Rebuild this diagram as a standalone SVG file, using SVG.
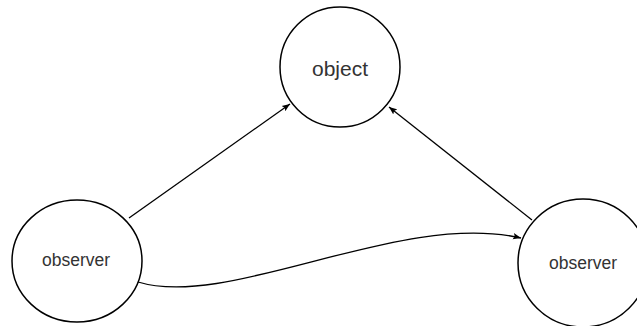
<svg xmlns="http://www.w3.org/2000/svg" width="637" height="326" viewBox="0 0 637 326">
<style>
.node{fill:#fff;stroke:#000;stroke-width:1.5}
.edge{fill:none;stroke:#000;stroke-width:1.3}
text{font-family:"Liberation Sans",Arial,sans-serif;fill:#333;text-anchor:middle;dominant-baseline:central}
</style>
<defs>
<marker id="ah" viewBox="0 0 10 10" refX="10" refY="5" markerWidth="8" markerHeight="8" markerUnits="userSpaceOnUse" orient="auto">
<path d="M0,1 L10,5 L0,9 L2,5 Z" fill="#000"/>
</marker>
</defs>
<rect width="637" height="326" fill="#fff"/>
<g id="object">
<circle class="node" cx="340" cy="67" r="60"/>
<text x="340" y="68" font-size="21">object</text>
</g>
<g id="observer1">
<ellipse class="node" cx="77" cy="261" rx="65" ry="61"/>
<text x="76" y="260" font-size="17.5">observer</text>
</g>
<g id="observer2">
<ellipse class="node" cx="583" cy="263" rx="65" ry="64"/>
<text x="583" y="263" font-size="17.5">observer</text>
</g>
<g id="connectors">
<path class="edge" d="M129,218 L290,104" marker-end="url(#ah)"/>
<path class="edge" d="M532,220 L389,107" marker-end="url(#ah)"/>
<path class="edge" d="M138,282 C230,310 400,210 521,238" marker-end="url(#ah)"/>
</g>
</svg>
